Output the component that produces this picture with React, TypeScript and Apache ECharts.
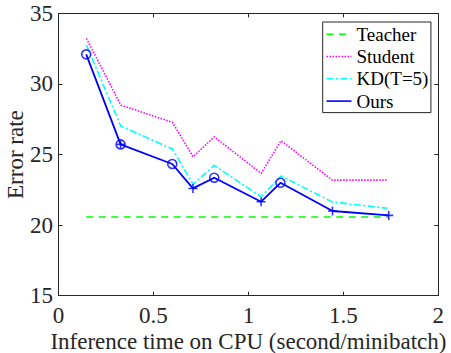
import React, { useEffect, useRef } from "react";
import * as echarts from "echarts";

const xTicks = [0, 0.5, 1, 1.5, 2];
const yTicks = [15, 20, 25, 30, 35];

const timeX = [0.147, 0.328, 0.6, 0.709, 0.82, 1.067, 1.172, 1.442, 1.732];
const oursX = [0.146, 0.327, 0.599, 0.708, 0.82, 1.067, 1.169, 1.443, 1.739];

const teacherX = [0.146, 1.735];
const teacherY = [20.58, 20.58];
const studentY = [33.23, 28.5, 27.28, 24.84, 26.26, 23.67, 25.98, 23.19, 23.19];
const kdY = [32.75, 27.02, 25.39, 22.89, 24.23, 22.01, 23.48, 21.64, 21.19];
const oursY = [32.1, 25.72, 24.33, 22.6, 23.36, 21.66, 23.0, 21.0, 20.69];
// marker kind per "Ours" point: o = circle, p = plus, op = circle with plus
const oursMarker = ["o", "op", "o", "p", "o", "p", "o", "p", "p"];

const FONT = "Liberation Serif";

const CIRCLE = "path://M-1,0 A1,1 0 1,0 1,0 A1,1 0 1,0 -1,0 Z";
const PLUS = "path://M0,-1 L0,1 M-1,0 L1,0";
const CIRCLE_PLUS =
  "path://M-1,0 A1,1 0 1,0 1,0 A1,1 0 1,0 -1,0 Z M0,-1 L0,1 M-1,0 L1,0";

export default function App() {
  const ref = useRef<HTMLDivElement>(null);
  useEffect(() => {
    if (!ref.current) return;
    const chart = echarts.init(ref.current, undefined, { renderer: "svg" });
    const axisColor = "#262626";
    const zip = (xs: number[], ys: number[]) => xs.map((x, i) => [x, ys[i]]);
    const markerData = oursX.map((x, i) => {
      const k = oursMarker[i];
      return {
        value: [x, oursY[i]],
        symbol: k === "o" ? CIRCLE : k === "p" ? PLUS : CIRCLE_PLUS,
        symbolSize: 9,
      };
    });
    chart.setOption({
      animation: false,
      backgroundColor: "#ffffff",
      textStyle: { fontFamily: FONT },
      grid: {
        left: 58.5,
        right: 12.7,
        top: 13.4,
        bottom: 57.3,
        containLabel: false,
        outerBoundsMode: "none",
      },
      legend: {
        data: ["Teacher", "Student", "KD(T=5)", "Ours"],
        orient: "vertical",
        left: 322.7,
        top: 22,
        padding: [2.7, 2.5, 2, 3],
        itemGap: 3.3,
        itemWidth: 25,
        itemHeight: 14,
        borderColor: "#262626",
        borderWidth: 1,
        backgroundColor: "#ffffff",
        itemStyle: { opacity: 0 },
        lineStyle: { width: 1.6 },
        textStyle: { fontFamily: FONT, fontSize: 19, color: "#000" },
      },
      xAxis: [
        {
          type: "value",
          min: 0,
          max: 2,
          interval: 0.5,
          position: "bottom",
          name: "Inference time on CPU (second/minibatch)",
          nameLocation: "middle",
          nameGap: 34,
          nameMoveOverlap: false,
          nameTextStyle: { fontFamily: FONT, fontSize: 23, color: "#262626" },
          axisLine: { show: true, lineStyle: { color: axisColor, width: 1 } },
          axisTick: { show: true, inside: true, length: 4, lineStyle: { color: axisColor } },
          axisLabel: {
            fontFamily: FONT,
            fontSize: 23,
            color: "#262626",
            margin: 8,
            formatter: (v: number) => (xTicks.includes(v) ? String(v) : ""),
          },
          splitLine: { show: false },
        },
        {
          type: "value",
          min: 0,
          max: 2,
          interval: 0.5,
          position: "top",
          axisLine: { show: true, onZero: false, lineStyle: { color: axisColor, width: 1 } },
          axisTick: { show: true, inside: true, length: 4, lineStyle: { color: axisColor } },
          axisLabel: { show: false },
          splitLine: { show: false },
        },
      ],
      yAxis: [
        {
          type: "value",
          min: 15,
          max: 35,
          interval: 5,
          position: "left",
          name: "Error rate",
          nameLocation: "middle",
          nameGap: 32,
          nameMoveOverlap: false,
          nameTextStyle: { fontFamily: FONT, fontSize: 23, color: "#262626" },
          axisLine: { show: true, lineStyle: { color: axisColor, width: 1 } },
          axisTick: { show: true, inside: true, length: 4, lineStyle: { color: axisColor } },
          axisLabel: {
            fontFamily: FONT,
            fontSize: 23,
            color: "#262626",
            margin: 5.5,
            formatter: (v: number) => (yTicks.includes(v) ? String(v) : ""),
          },
          splitLine: { show: false },
        },
        {
          type: "value",
          min: 15,
          max: 35,
          interval: 5,
          position: "right",
          axisLine: { show: true, onZero: false, lineStyle: { color: axisColor, width: 1 } },
          axisTick: { show: true, inside: true, length: 4, lineStyle: { color: axisColor } },
          axisLabel: { show: false },
          splitLine: { show: false },
        },
      ],
      series: [
        {
          name: "Teacher",
          type: "line",
          data: zip(teacherX, teacherY),
          symbol: "none",
          itemStyle: { color: "#00ff00" },
          lineStyle: { color: "#00ff00", width: 1.6, type: [7, 5.5] },
        },
        {
          name: "Student",
          type: "line",
          data: zip(timeX, studentY),
          symbol: "none",
          itemStyle: { color: "#ff00ff" },
          lineStyle: { color: "#ff00ff", width: 1.6, type: [1.5, 1.5] },
        },
        {
          name: "KD(T=5)",
          type: "line",
          data: zip(timeX, kdY),
          symbol: "none",
          itemStyle: { color: "#00ffff" },
          lineStyle: { color: "#00ffff", width: 1.6, type: [7, 2.5, 2, 2.5] },
        },
        {
          name: "Ours",
          type: "line",
          data: zip(oursX, oursY),
          symbol: "none",
          itemStyle: { color: "#0000ff" },
          lineStyle: { color: "#0000ff", width: 1.8 },
        },
        {
          type: "scatter",
          data: markerData,
          z: 5,
          itemStyle: { color: "none", borderColor: "#0000ff", borderWidth: 1.6 },
        },
      ],
    });
    return () => chart.dispose();
  }, []);
  return <div ref={ref} style={{ width: 451, height: 353, position: "absolute", left: 0, top: 0 }} />;
}
